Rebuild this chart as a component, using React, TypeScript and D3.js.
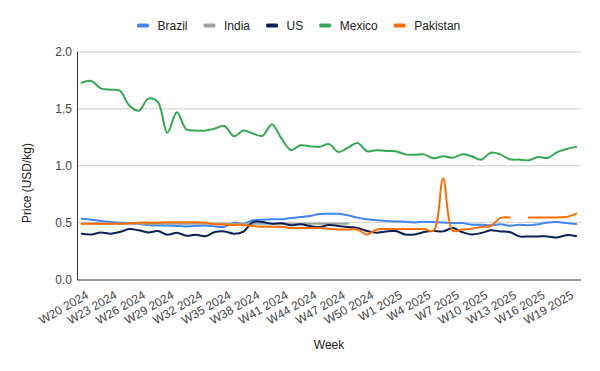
import React, { useEffect, useRef } from "react";
import * as d3 from "d3";

// weeks on the x axis (only every 3rd one gets a label)
const weeks = [
  "W20 2024", "W21 2024", "W22 2024", "W23 2024", "W24 2024", "W25 2024", "W26 2024",
  "W27 2024", "W28 2024", "W29 2024", "W30 2024", "W31 2024", "W32 2024", "W33 2024",
  "W34 2024", "W35 2024", "W36 2024", "W37 2024", "W38 2024", "W39 2024", "W40 2024",
  "W41 2024", "W42 2024", "W43 2024", "W44 2024", "W45 2024", "W46 2024", "W47 2024",
  "W48 2024", "W49 2024", "W50 2024", "W51 2024", "W52 2024", "W1 2025", "W2 2025",
  "W3 2025", "W4 2025", "W5 2025", "W6 2025", "W7 2025", "W8 2025", "W9 2025",
  "W10 2025", "W11 2025", "W12 2025", "W13 2025", "W14 2025", "W15 2025", "W16 2025",
  "W17 2025", "W18 2025", "W19 2025", "W20 2025",
];

const brazil = [
  0.535, 0.526, 0.514, 0.505, 0.5, 0.496, 0.49, 0.478, 0.475, 0.475, 0.47, 0.467, 0.47,
  0.475, 0.467, 0.464, 0.5, 0.49, 0.52, 0.526, 0.53, 0.53, 0.54, 0.549, 0.558, 0.575,
  0.578, 0.578, 0.564, 0.543, 0.529, 0.52, 0.514, 0.51, 0.508, 0.502, 0.508, 0.505,
  0.502, 0.496, 0.496, 0.482, 0.482, 0.476, 0.485, 0.473, 0.482, 0.476, 0.485, 0.502,
  0.505, 0.496, 0.487,
];

const india = [
  0.49, 0.49, 0.49, 0.49, 0.49, 0.49, 0.49, 0.49, 0.49, 0.49, 0.49, 0.49, 0.49, 0.49,
  0.49, 0.49, 0.49, 0.49, 0.49, 0.49, 0.49, 0.49, 0.49, 0.49, 0.49, 0.49, 0.49, 0.49,
  0.49, null, null, null, null, null, null, null, null, null, null, null, null, null,
  null, null, null, null, null, null, null, null, null, null, null,
];

const us = [
  0.402, 0.396, 0.414, 0.402, 0.417, 0.443, 0.432, 0.414, 0.426, 0.394, 0.411, 0.385,
  0.394, 0.381, 0.417, 0.423, 0.402, 0.42, 0.505, 0.505, 0.49, 0.495, 0.476, 0.485, 0.47,
  0.461, 0.48, 0.47, 0.461, 0.452, 0.426, 0.411, 0.423, 0.426, 0.396, 0.396, 0.417,
  0.426, 0.423, 0.452, 0.417, 0.396, 0.408, 0.432, 0.423, 0.417, 0.379, 0.379, 0.379,
  0.379, 0.37, 0.39, 0.381,
];

const mexico = [
  1.73, 1.745, 1.68, 1.668, 1.66, 1.53, 1.483, 1.59, 1.56, 1.29, 1.47, 1.32, 1.31, 1.31,
  1.327, 1.35, 1.26, 1.31, 1.284, 1.263, 1.363, 1.24, 1.137, 1.18, 1.172, 1.166, 1.19,
  1.12, 1.16, 1.2, 1.128, 1.137, 1.13, 1.128, 1.1, 1.097, 1.1, 1.066, 1.084, 1.07, 1.1,
  1.084, 1.054, 1.115, 1.1, 1.057, 1.054, 1.048, 1.077, 1.069, 1.12, 1.148, 1.166,
];

const pakistan = [
  0.49, 0.49, 0.49, 0.49, 0.49, 0.495, 0.5, 0.5, 0.5, 0.503, 0.503, 0.503, 0.503, 0.5,
  0.485, 0.483, 0.48, 0.48, 0.47, 0.464, 0.464, 0.464, 0.452, 0.452, 0.452, 0.452, 0.446,
  0.44, 0.44, 0.44, 0.396, 0.44, 0.443, 0.443, 0.443, 0.443, 0.443, 0.43, 0.887, 0.43,
  0.44, 0.446, 0.461, 0.47, 0.54, 0.546, null, 0.546, 0.546, 0.546, 0.546, 0.55, 0.579,
];

const seriesNames = ["Brazil", "India", "US", "Mexico", "Pakistan"];
const seriesColors = ["#4285f4", "#9ba59b", "#0c1f5a", "#34a853", "#ff6d01"];
const yTicks = [0, 0.5, 1, 1.5, 2];

const FONT = "Arial, 'Liberation Sans', sans-serif";

const App: React.FC = () => {
  const svgRef = useRef<SVGSVGElement>(null);

  useEffect(() => {
    const svg = d3.select(svgRef.current);
    svg.selectAll("*").remove();

    const allSeries = [brazil, india, us, mexico, pakistan];

    // plot area
    const left = 77;
    const right = 581;
    const top = 52;
    const bottom = 279.5;

    const x = d3.scalePoint<string>().domain(weeks).range([left, right]).padding(0.5);
    const y = d3.scaleLinear().domain([0, 2]).range([bottom, top]);

    // grid lines
    svg
      .append("g")
      .selectAll("line")
      .data(yTicks.filter((t) => t > 0))
      .enter()
      .append("line")
      .attr("x1", left)
      .attr("x2", right)
      .attr("y1", (d) => y(d))
      .attr("y2", (d) => y(d))
      .attr("stroke", "#cccccc")
      .attr("stroke-width", 1);

    // y tick labels
    svg
      .append("g")
      .selectAll("text")
      .data(yTicks)
      .enter()
      .append("text")
      .attr("x", left - 5)
      .attr("y", (d) => y(d))
      .attr("dy", "0.35em")
      .attr("text-anchor", "end")
      .style("font-family", FONT)
      .style("font-size", "12px")
      .style("fill", "#444")
      .text((d) => d3.format(".1f")(d));

    // axis lines
    svg
      .append("line")
      .attr("x1", left + 0.5)
      .attr("x2", left + 0.5)
      .attr("y1", top)
      .attr("y2", bottom + 0.5)
      .attr("stroke", "#333");
    svg
      .append("line")
      .attr("x1", left)
      .attr("x2", right)
      .attr("y1", bottom + 0.5)
      .attr("y2", bottom + 0.5)
      .attr("stroke", "#333");

    // x tick labels, rotated
    svg
      .append("g")
      .selectAll("text")
      .data(weeks.filter((_, i) => i % 3 === 0))
      .enter()
      .append("text")
      .attr("transform", (d) => `translate(${(x(d) as number) + 7.5},297.5) rotate(-30)`)
      .attr("text-anchor", "end")
      .style("font-family", FONT)
      .style("font-size", "12px")
      .style("fill", "#444")
      .text((d) => d);

    // axis titles
    svg
      .append("text")
      .attr("x", (left + right) / 2)
      .attr("y", 349)
      .attr("text-anchor", "middle")
      .style("font-family", FONT)
      .style("font-size", "12px")
      .style("fill", "#222")
      .text("Week");
    svg
      .append("text")
      .attr("transform", "translate(31,183) rotate(-90)")
      .attr("text-anchor", "middle")
      .style("font-family", FONT)
      .style("font-size", "12px")
      .style("fill", "#222")
      .text("Price (USD/kg)");

    // lines
    const line = d3
      .line<number | null>()
      .defined((d) => d != null)
      .x((_, i) => x(weeks[i]) as number)
      .y((d) => y(d as number))
      .curve(d3.curveCatmullRom.alpha(0.5));

    allSeries.forEach((s, k) => {
      svg
        .append("path")
        .datum(s)
        .attr("d", line)
        .attr("fill", "none")
        .attr("stroke", seriesColors[k])
        .attr("stroke-width", 2)
        .attr("stroke-linejoin", "round")
        .attr("stroke-linecap", "round");
    });

    // legend, laid out by measured text widths
    const legend = svg.append("g");
    let cx = 0;
    seriesNames.forEach((name, k) => {
      const g = legend.append("g").attr("transform", `translate(${cx},0)`);
      g.append("rect")
        .attr("x", 0)
        .attr("y", 23.5)
        .attr("width", 12)
        .attr("height", 4)
        .attr("rx", 1.5)
        .attr("fill", seriesColors[k]);
      const t = g
        .append("text")
        .attr("x", 20.5)
        .attr("y", 30)
        .style("font-family", FONT)
        .style("font-size", "12px")
        .style("fill", "#222")
        .text(name);
      const w = (t.node() as SVGTextElement).getComputedTextLength();
      cx += 20.5 + w + 16;
    });
    const total = cx - 16;
    legend.attr("transform", `translate(${137},0)`);
    void total;
  }, []);

  return (
    <svg
      ref={svgRef}
      width={600}
      height={371}
      style={{ position: "absolute", left: 0, top: 0, background: "#fff" }}
    />
  );
};

export default App;
